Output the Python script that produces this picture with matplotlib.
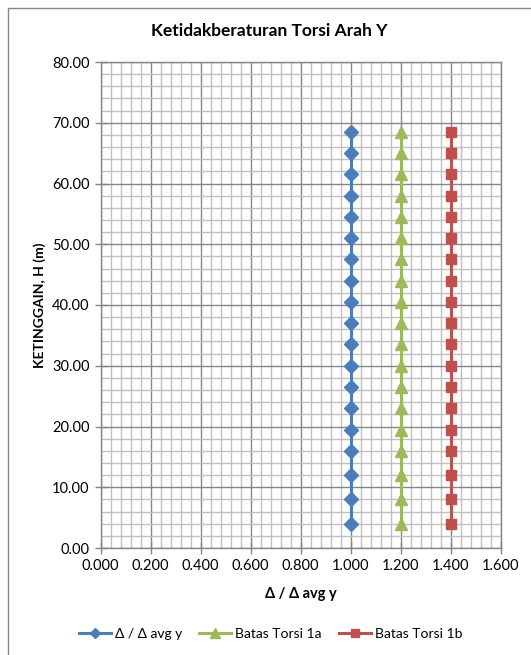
import matplotlib
matplotlib.use("Agg")
import matplotlib.pyplot as plt
from matplotlib.patches import Rectangle
from matplotlib.ticker import MultipleLocator, FormatStrFormatter

plt.rcParams['font.family'] = ['Lato', 'DejaVu Sans']

heights = [4.0, 8.0, 12.0, 16.0, 19.5, 23.0, 26.5, 30.0, 33.5, 37.0, 40.5,
           44.0, 47.5, 51.0, 54.5, 58.0, 61.5, 65.0, 68.5]
ratio_y = [1.0] * len(heights)
batas_1a = [1.2] * len(heights)
batas_1b = [1.4] * len(heights)

series_names = ["Δ / Δ avg y", "Batas Torsi 1a", "Batas Torsi 1b"]
colors = ["#4A7EBB", "#9BBB59", "#C0504D"]

W, H = 531, 655
fig = plt.figure(figsize=(W / 100, H / 100), dpi=100)
fig.patch.set_facecolor("white")

# chart border (clipped by image edges on right/bottom)
fig.add_artist(Rectangle((8 / W, -0.1), 1.2, 1 - 8 / H + 0.1,
                         transform=fig.transFigure, fill=False,
                         edgecolor="#868686", linewidth=1.0, clip_on=False))

ax = fig.add_axes([100.7 / W, 1 - 548 / H, 400 / W, (548 - 62) / H])

ax.plot(ratio_y, heights, color=colors[0], lw=2.2, marker="D", ms=7,
        label=series_names[0], zorder=3)
ax.plot(batas_1a, heights, color=colors[1], lw=2.2, marker="^", ms=8.5,
        label=series_names[1], zorder=3)
ax.plot(batas_1b, heights, color=colors[2], lw=2.2, marker="s", ms=7.5,
        label=series_names[2], zorder=3)

ax.set_xlim(0, 1.6)
ax.set_ylim(0, 80)
ax.xaxis.set_major_locator(MultipleLocator(0.2))
ax.xaxis.set_minor_locator(MultipleLocator(0.04))
ax.yaxis.set_major_locator(MultipleLocator(10))
ax.yaxis.set_minor_locator(MultipleLocator(2))
ax.xaxis.set_major_formatter(FormatStrFormatter("%.3f"))
ax.yaxis.set_major_formatter(FormatStrFormatter("%.2f"))

ax.grid(which="major", color="#868686", lw=1.0, zorder=1)
ax.grid(which="minor", color="#C0C0C0", lw=1.0, zorder=0)
ax.set_axisbelow(True)

for s in ax.spines.values():
    s.set_color("#868686")
    s.set_linewidth(1.0)

ax.tick_params(which="major", direction="inout", length=8, width=1.0,
               color="#868686", labelsize=10.5, labelcolor="#000000", pad=4)
ax.tick_params(which="minor", length=0)

ax.set_xlabel("Δ / Δ avg y", fontsize=10.5, fontweight="bold", labelpad=10)
ax.set_ylabel("KETINGGAIN, H (m)", fontsize=10, fontweight="bold", labelpad=4)

fig.text(0.508, 1 - 31 / H, "Ketidakberaturan Torsi Arah Y", ha="center",
         va="center", fontsize=12.5, fontweight="bold")

fig.legend(loc="center", bbox_to_anchor=(0.51, 1 - 634 / H), ncol=3,
           frameon=False, fontsize=10, handlelength=2.3, columnspacing=1.2,
           handletextpad=0.3, markerscale=0.8)

fig.savefig("out.png", dpi=100)
